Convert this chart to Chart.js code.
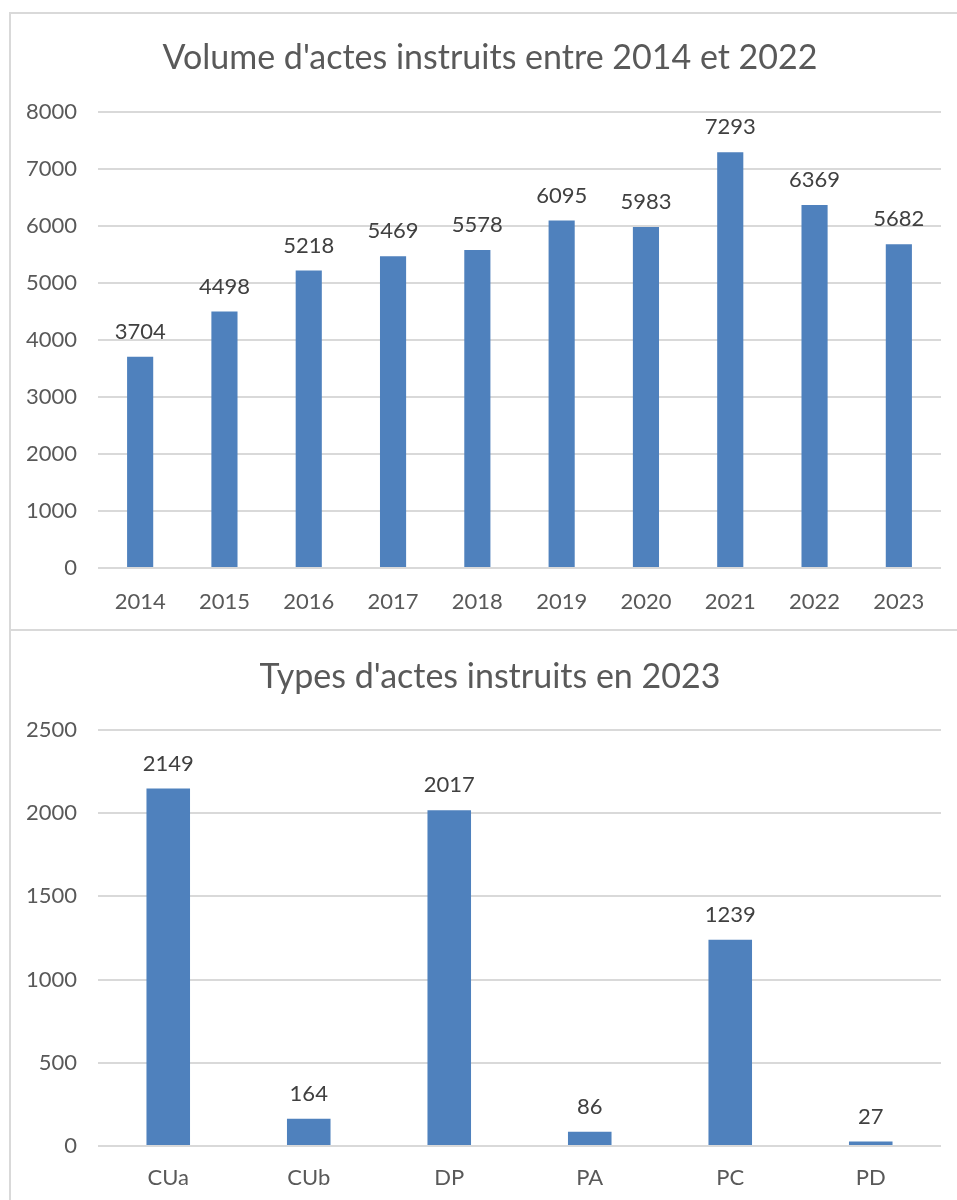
<!DOCTYPE html>
<html>
<head>
<meta charset="utf-8">
<script src="https://cdn.jsdelivr.net/npm/chart.js@4.4.1/dist/chart.umd.min.js"></script>
<style>
  html, body { margin: 0; padding: 0; background: #fff; overflow: hidden; }
  body { width: 957px; height: 1200px; position: relative; }
  .box { position: absolute; left: 9px; width: 1000px; border: 2px solid #d9d9d9; box-sizing: border-box; }
  canvas { position: absolute; left: 11px; }
</style>
</head>
<body>
<div class="box" style="top:12px;height:619px"></div>
<div class="box" style="top:629px;height:600px"></div>
<canvas id="volChart" width="960" height="613" style="top:15px"></canvas>
<canvas id="typeChart" width="960" height="568" style="top:632px"></canvas>
<script>
// Top chart: yearly volume
const years = ["2014", "2015", "2016", "2017", "2018", "2019", "2020", "2021", "2022", "2023"];
const volumes = [3704, 4498, 5218, 5469, 5578, 6095, 5983, 7293, 6369, 5682];

// Bottom chart: act types in 2023
const types = ["CUa", "CUb", "DP", "PA", "PC", "PD"];
const typeCounts = [2149, 164, 2017, 86, 1239, 27];

const BAR = "#4f81bd";
const TXT = "#595959";
const GRID = "#d9d9d9";
const FONT = "Lato, 'Open Sans', sans-serif";

// value labels above each bar
const barLabels = {
  id: "barLabels",
  afterDatasetsDraw(chart) {
    const ctx = chart.ctx;
    ctx.save();
    ctx.font = "22px " + FONT;
    ctx.fillStyle = "#404040";
    ctx.textAlign = "center";
    ctx.textBaseline = "middle";
    chart.getDatasetMeta(0).data.forEach((bar, i) => {
      ctx.fillText(String(chart.data.datasets[0].data[i]), bar.x, bar.y - 25);
    });
    ctx.restore();
  }
};

// title centred on the whole chart box (which runs past the page edge)
const boxTitle = {
  id: "boxTitle",
  afterDraw(chart, args, opts) {
    const ctx = chart.ctx;
    ctx.save();
    ctx.font = "34px " + FONT;
    ctx.fillStyle = TXT;
    ctx.textAlign = "center";
    ctx.textBaseline = "middle";
    ctx.fillText(opts.text, 479, opts.y);
    ctx.restore();
  }
};

function makeChart(id, labels, values, title, titleY, yMax, yStep, topPad, xHeight, xPad) {
  return new Chart(document.getElementById(id), {
    type: "bar",
    data: {
      labels,
      datasets: [{ data: values, backgroundColor: BAR, categoryPercentage: 1, barPercentage: 0.31 }]
    },
    options: {
      responsive: false,
      animation: false,
      layout: { padding: { left: 0, right: 30, top: topPad, bottom: 0 } },
      plugins: {
        legend: { display: false },
        tooltip: { enabled: false },
        title: { display: false },
        boxTitle: { text: title, y: titleY }
      },
      scales: {
        x: {
          grid: { display: false },
          border: { display: false },
          ticks: { color: TXT, font: { family: FONT, size: 22 }, padding: xPad },
          afterFit: (s) => { s.height = xHeight; }
        },
        y: {
          min: 0, max: yMax,
          grid: { color: GRID, lineWidth: 2, drawTicks: false },
          border: { display: false },
          ticks: {
            stepSize: yStep, color: TXT, font: { family: FONT, size: 22 }, padding: 21,
            callback: (v) => String(v)
          },
          afterFit: (s) => { s.width = 87; }
        }
      }
    },
    plugins: [barLabels, boxTitle]
  });
}

makeChart("volChart", years, volumes, "Volume d'actes instruits entre 2014 et 2022", 43, 8000, 1000, 97, 60, 13);
makeChart("typeChart", types, typeCounts, "Types d'actes instruits en 2023", 45, 2500, 500, 98, 54, 11);
</script>
</body>
</html>
